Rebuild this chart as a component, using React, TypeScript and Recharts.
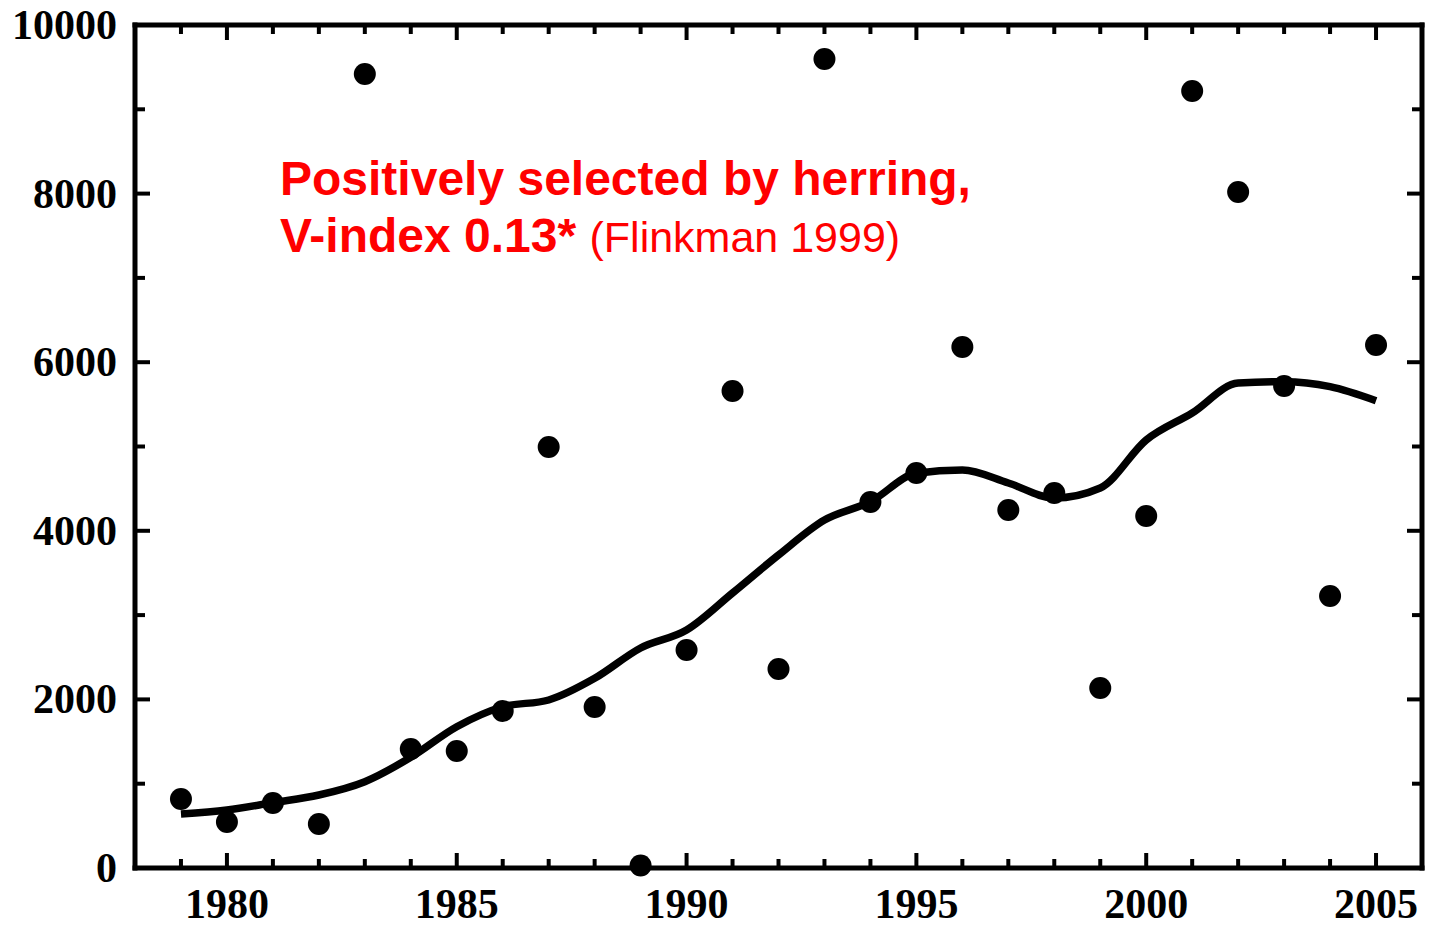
import { ComposedChart, Line, Scatter, XAxis, YAxis, ReferenceLine } from 'recharts';

// yearly abundance and the smoothed trend through it
const YEARS = [1979, 1980, 1981, 1982, 1983, 1984, 1985, 1986, 1987, 1988, 1989, 1990, 1991, 1992, 1993, 1994, 1995, 1996, 1997, 1998, 1999, 2000, 2001, 2002, 2003, 2004, 2005];
const ABUNDANCE = [818, 546, 771, 522, 9419, 1412, 1388, 1862, 4994, 1910, 30, 2586, 5658, 2361, 9597, 4342, 4686, 6180, 4247, 4448, 2135, 4176, 9217, 8019, 5718, 3227, 6204];
const TREND = [641, 688, 775, 866, 1024, 1313, 1676, 1913, 1993, 2250, 2610, 2823, 3262, 3713, 4128, 4345, 4682, 4721, 4567, 4389, 4508, 5077, 5397, 5753, 5769, 5710, 5543];

const X_TICKS = [1979, 1980, 1981, 1982, 1983, 1984, 1985, 1986, 1987, 1988, 1989, 1990, 1991, 1992, 1993, 1994, 1995, 1996, 1997, 1998, 1999, 2000, 2001, 2002, 2003, 2004, 2005];
const Y_TICKS = [0, 1000, 2000, 3000, 4000, 5000, 6000, 7000, 8000, 9000, 10000];
const X_DOMAIN = [1978, 2006];
const Y_DOMAIN = [0, 10000];

const data = YEARS.map((year, i) => ({ year, value: ABUNDANCE[i], trend: TREND[i] }));

const W = 1433;
const H = 925;
const MARGIN_TOP = 25;
const MARGIN_RIGHT = 11;
const X_AXIS_H = 57;
const PLOT_TOP = MARGIN_TOP;
const PLOT_BOTTOM = H - X_AXIS_H;
const PLOT_RIGHT = W - MARGIN_RIGHT;

const SERIF = '"Liberation Serif", "Times New Roman", serif';
const SANS = '"Liberation Sans", Arial, sans-serif';
const TICK_W = 4;

// inward ticks on both the bottom and the top edge of the frame
const BottomTick = ({ x, payload }: any) => {
  const major = payload.value % 5 === 0;
  const len = major ? 15 : 9;
  return (
    <g>
      <line x1={x} x2={x} y1={PLOT_BOTTOM} y2={PLOT_BOTTOM - len} stroke="#000" strokeWidth={TICK_W} />
      <line x1={x} x2={x} y1={PLOT_TOP} y2={PLOT_TOP + len} stroke="#000" strokeWidth={TICK_W} />
      {major && (
        <text x={x} y={PLOT_BOTTOM + 50} textAnchor="middle" fontFamily={SERIF} fontWeight="bold" fontSize={42} fill="#000">
          {payload.value}
        </text>
      )}
    </g>
  );
};

// inward ticks on the left and right edges
const LeftTick = ({ x, y, payload }: any) => {
  const major = payload.value % 2000 === 0;
  const len = major ? 15 : 10;
  return (
    <g>
      <line x1={x} x2={x + len} y1={y} y2={y} stroke="#000" strokeWidth={TICK_W} />
      <line x1={PLOT_RIGHT} x2={PLOT_RIGHT - len} y1={y} y2={y} stroke="#000" strokeWidth={TICK_W} />
      {major && (
        <text x={x - 18} y={y + 14} textAnchor="end" fontFamily={SERIF} fontWeight="bold" fontSize={42} fill="#000">
          {payload.value}
        </text>
      )}
    </g>
  );
};

const Dot = ({ cx, cy }: any) => <circle cx={cx} cy={cy} r={11} fill="#000" />;

const frame = { stroke: '#000', strokeWidth: 5, strokeLinecap: 'square' as const };

export default function App() {
  return (
    <div style={{ position: 'absolute', left: 0, top: 0, width: W, height: H, background: '#fff' }}>
      <ComposedChart width={W} height={H} data={data} margin={{ top: MARGIN_TOP, right: MARGIN_RIGHT, bottom: 0, left: 0 }}>
        <XAxis
          dataKey="year"
          type="number"
          domain={X_DOMAIN}
          ticks={X_TICKS}
          interval={0}
          height={X_AXIS_H}
          tickSize={0}
          tickMargin={0}
          tick={<BottomTick />}
          tickLine={false}
          axisLine={frame}
        />
        <YAxis
          type="number"
          domain={Y_DOMAIN}
          ticks={Y_TICKS}
          interval={0}
          width={135}
          tickSize={0}
          tickMargin={0}
          tick={<LeftTick />}
          tickLine={false}
          axisLine={frame}
        />
        <ReferenceLine y={Y_DOMAIN[1]} stroke="#000" strokeWidth={5} strokeLinecap="square" />
        <ReferenceLine x={X_DOMAIN[1]} stroke="#000" strokeWidth={5} strokeLinecap="square" />
        <Line
          type="monotone"
          dataKey="trend"
          stroke="#000"
          strokeWidth={7.5}
          strokeLinejoin="round"
          dot={false}
          isAnimationActive={false}
        />
        <Scatter dataKey="value" shape={<Dot />} isAnimationActive={false} />
      </ComposedChart>
      <div
        style={{
          position: 'absolute',
          left: 280,
          top: 150,
          color: '#ff0000',
          fontFamily: SANS,
          fontSize: 48,
          fontWeight: 'bold',
          lineHeight: '57px',
          whiteSpace: 'nowrap',
        }}
      >
        <div>Positively selected by herring,</div>
        <div>
          V-index 0.13* <span style={{ fontWeight: 'normal', fontSize: 43 }}>(Flinkman 1999)</span>
        </div>
      </div>
    </div>
  );
}
